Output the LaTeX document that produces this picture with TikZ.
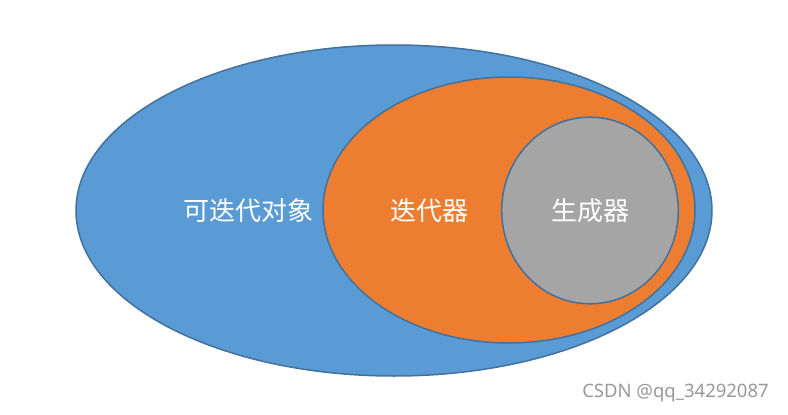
\documentclass[tikz,border=0pt]{standalone}
\usepackage{fontspec}
\newfontfamily\cjk{Noto Sans CJK SC}
\newfontfamily\wm{Noto Sans}
\definecolor{oblue}{HTML}{5B9BD5}
\definecolor{oorange}{HTML}{ED7D31}
\definecolor{ogray}{HTML}{A5A5A5}
\definecolor{oline}{HTML}{41719C}
\begin{document}
\begin{tikzpicture}[x=1pt,y=-1pt,
  setshape/.style={draw=oline,line width=1.5pt},
  lbl/.style={text=white,font=\cjk\fontsize{26}{30}\selectfont,inner sep=0pt}]
\useasboundingbox (0,0) rectangle (788,415);
\fill[white] (0,0) rectangle (788,415);
\draw[setshape,fill=oblue] (394,210.5) ellipse [x radius=318,y radius=165.5];
\draw[setshape,fill=oorange] (509,210) ellipse [x radius=186,y radius=133];
\draw[setshape,fill=ogray] (590,210.5) ellipse [x radius=88.3,y radius=93.3];
\node[lbl] (iterable) at (248,211) {可迭代对象};
\node[lbl] (iterator) at (429,211) {迭代器};
\node[lbl] (generator) at (590,211) {生成器};
\node[text=black!40,font=\wm\fontsize{18.5}{22}\selectfont,inner sep=0pt] (mark) at (675.5,393) {CSDN @qq\_34292087};
\end{tikzpicture}
\end{document}
